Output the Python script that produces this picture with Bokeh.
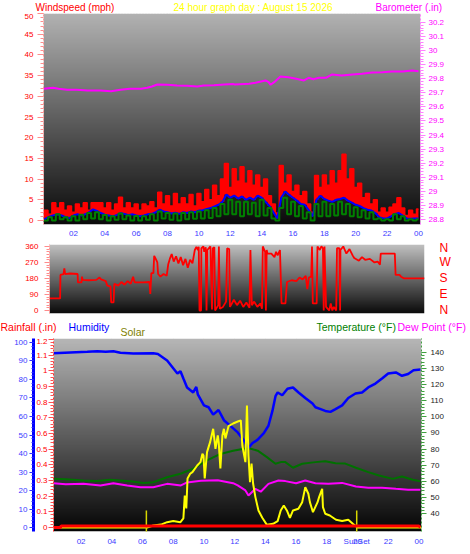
import json
import numpy as np
from bokeh.plotting import figure
from bokeh.layouts import column
from bokeh.models import Range1d, LinearAxis, FixedTicker, Label, CustomJSTickFormatter
from bokeh.embed import file_html
from bokeh.resources import INLINE

# ------------------------------------------------------------------ data
TITLE_DATE = "24 hour graph day : August 15 2026"

# wind, sampled every 15 minutes (hours since midnight)
wind_hours = [0, 0.25, 0.5, 0.75, 1, 1.25, 1.5, 1.75, 2, 2.25, 2.5, 2.75, 3, 3.25, 3.5, 3.75,
              4, 4.25, 4.5, 4.75, 5, 5.25, 5.5, 5.75, 6, 6.25, 6.5, 6.75, 7, 7.25, 7.5, 7.75,
              8, 8.25, 8.5, 8.75, 9, 9.25, 9.5, 9.75, 10, 10.25, 10.5, 10.75, 11, 11.25, 11.5, 11.75,
              12, 12.25, 12.5, 12.75, 13, 13.25, 13.5, 13.75, 14, 14.25, 14.5, 14.75, 15, 15.25, 15.5, 15.75,
              16, 16.25, 16.5, 16.75, 17, 17.25, 17.5, 17.75, 18, 18.25, 18.5, 18.75, 19, 19.25, 19.5, 19.75,
              20, 20.25, 20.5, 20.75, 21, 21.25, 21.5, 21.75, 22, 22.25, 22.5, 22.75, 23, 23.25, 23.5, 23.75, 24]
wind_gust = [0, 2.5, 1.5, 4.3, 3, 4.3, 2.5, 3.5, 2, 4, 3, 4.3, 2.5, 4.3, 4.3, 4.3,
             3, 4.3, 2.5, 4, 5.6, 3, 4.3, 3, 4, 2.5, 4, 3.5, 4.5, 3, 6.8, 4,
             6, 3.5, 6.5, 4, 5.5, 4, 6.3, 3.5, 6.5, 4.5, 7.5, 5, 8.5, 6, 10, 13.8,
             8, 12.5, 9.5, 13, 9, 12, 8.5, 11, 8, 10, 6, 4, 1.8, 13.3, 9, 11,
             7, 8.5, 6, 7, 4, 2, 10.9, 8, 11, 8.5, 12, 9, 12, 16, 10, 12.5,
             8, 9, 5.5, 6.5, 4, 5, 2, 3, 2, 3.2, 4, 5.5, 3, 1.2, 2.5, 1.5, 2.8]
wind_avg = [0, 0.5, 1, 1.3, 1.5, 1.2, 0.8, 0.6, 1.2, 1.5, 1.2, 1.5, 2, 2.7, 2.3, 1.8,
            1.4, 1.2, 1, 1.3, 1.8, 1.6, 1.3, 1.5, 1.2, 1, 1.2, 1.5, 1.6, 2, 2.6, 2.2,
            2, 1.7, 1.9, 1.6, 2, 1.8, 2.2, 2, 2.4, 2.5, 2.8, 3, 3.4, 3.8, 4.5, 6.3,
            5.5, 6, 5.3, 5.8, 5, 5.5, 5, 6, 5.5, 4.5, 3.5, 2, 0.5, 5.5, 7, 6.2,
            5.5, 4.8, 4, 3.8, 2.5, 1, 5, 6, 5.2, 4.8, 4.5, 5, 5.2, 5.5, 4.8, 4.3,
            3.8, 3.5, 3, 2.6, 2.4, 1.8, 0.8, 0.5, 0.5, 1, 1.6, 1.8, 1.2, 0.5, 0.4, 0.5, 0.5]
wind_speed = [0, 0, 0.8, 0, 1.5, 0.3, 0.8, 0, 1, 0, 1.4, 0.3, 1.8, 0.5, 2, 0.3,
              1.3, 0, 1, 0.2, 1.7, 0.3, 1.2, 0, 1.1, 0, 1, 0.2, 1.5, 0, 2.2, 0.5,
              1.8, 0.2, 1.7, 0, 1.8, 0.3, 2, 0.4, 2.2, 0.5, 2.5, 0.6, 3, 1, 4, 1.5,
              5, 1.5, 4.5, 1, 4.5, 1.5, 4.3, 1, 5, 1.2, 3, 0.5, 0, 3, 5.5, 1.5,
              4.5, 1, 3.5, 0.5, 2, 0, 4, 1, 4.5, 1, 4, 1.2, 4.5, 1.5, 4, 1,
              3.2, 0.8, 2.5, 0.5, 2, 0.3, 0.5, 0, 0.3, 0, 1.5, 0.3, 1, 0, 0.3, 0, 0.3]

baro_hours = [0.1, 0.7, 1.05, 1.6, 2.2, 2.9, 3.7, 4.4, 5.0, 5.6, 6.3, 6.7, 7.0, 7.35, 8.0, 8.6,
              9.25, 9.9, 10.3, 10.95, 11.6, 12.2, 12.3, 13.2, 13.6, 14.25, 14.45, 14.57, 14.8, 15.2,
              15.7, 16.2, 16.7, 17.0, 17.3, 17.65, 18.1, 18.5, 19.1, 19.8, 20.4, 21.05, 21.7, 22.3,
              23.0, 23.6, 24.0]
baro_inhg = [29.729, 29.736, 29.729, 29.722, 29.722, 29.717, 29.717, 29.712, 29.722, 29.729,
             29.729, 29.736, 29.745, 29.759, 29.757, 29.752, 29.750, 29.745, 29.752, 29.754,
             29.759, 29.762, 29.759, 29.764, 29.772, 29.788, 29.776, 29.757, 29.776, 29.816,
             29.811, 29.800, 29.788, 29.807, 29.797, 29.807, 29.807, 29.831, 29.823, 29.831,
             29.836, 29.845, 29.847, 29.852, 29.852, 29.859, 29.854]

dir_hours = [0, 0.68, 0.7, 0.9, 0.95, 1.0, 1.3, 1.8, 1.82, 2.05, 2.08, 2.12, 2.5, 3.0, 3.2, 3.3,
             3.6, 3.7, 3.9, 3.95, 4.1, 4.15, 4.4, 4.6, 4.8, 5.0, 5.2, 5.35, 5.45, 6.0, 6.4, 6.45,
             6.52, 6.65, 6.7, 6.8, 6.9, 6.95, 7.1, 7.3, 7.5, 7.6, 7.7, 7.82, 7.95, 8.1, 8.25, 8.4,
             8.55, 8.7, 8.85, 9.0, 9.15, 9.3, 9.4, 9.5, 9.55, 9.6, 9.7, 9.72, 9.85, 9.9, 10.0, 10.05,
             10.1, 10.3, 10.4, 10.45, 10.55, 10.6, 10.8, 10.84, 10.9, 11.1, 11.3, 11.37, 11.5, 11.55,
             11.8, 12.0, 12.2, 12.4, 12.6, 12.8, 12.86, 12.95, 13.1, 13.3, 13.5, 13.6, 13.65, 13.8,
             13.85, 13.9, 13.95, 14.2, 14.4, 14.5, 14.6, 14.75, 14.85, 15.1, 15.2, 15.5, 15.8, 16.0,
             16.2, 16.4, 16.5, 16.6, 16.75, 16.8, 16.85, 17.1, 17.15, 17.3, 17.4, 17.5, 17.55, 17.6,
             17.7, 17.9, 18.0, 18.1, 18.2, 18.35, 18.4, 18.55, 18.6, 18.62, 18.8, 19.0, 19.2, 19.4,
             19.5, 19.8, 20.0, 20.2, 20.5, 20.8, 21.0, 21.15, 21.2, 22.1, 22.15, 22.4, 22.5, 22.7, 24]
dir_deg = [68, 68, 200, 205, 237, 205, 208, 205, 158, 158, 190, 172, 170, 172, 185, 175,
           165, 140, 135, 45, 45, 150, 140, 160, 145, 165, 150, 190, 158, 158, 160, 93,
           210, 210, 307, 290, 270, 205, 190, 205, 195, 260, 290, 317, 275, 305, 265, 300,
           255, 290, 240, 285, 265, 340, 358, 340, 358, 0, 0, 350, 360, 330, 355, 0,
           340, 360, 5, 350, 355, 0, 30, 360, 10, 20, 50, 350, 345, 20,
           60, 30, 55, 20, 45, 15, 340, 30, 50, 20, 40, 10, 360, 330,
           0, 340, 320, 320, 300, 330, 310, 340, 40, 40, 160, 170, 165, 185,
           175, 195, 120, 185, 190, 360, 40, 40, 360, 340, 360, 350, 0, 360,
           20, 0, 40, 0, 20, 0, 350, 350, 0, 340, 360, 320, 345, 310,
           295, 280, 300, 285, 290, 270, 275, 258, 320, 320, 200, 200, 190, 180, 180]

hum_hours = [0.2, 2.4, 3.06, 3.6, 4.1, 4.56, 5.4, 6.7, 7.0, 7.6, 8.27, 8.47, 8.66, 8.9, 9.3, 9.5,
             9.6, 10.0, 10.3, 10.6, 10.95, 11.3, 11.85, 12.2, 12.6, 12.9, 13.15, 13.5, 13.9, 14.2,
             14.46, 14.66, 14.8, 15.1, 15.44, 15.8, 16.16, 16.6, 17.07, 17.26, 17.6, 17.9, 18.24,
             18.57, 19.0, 19.4, 19.87, 20.3, 20.7, 21.17, 21.6, 22.0, 22.5, 22.9, 23.3, 23.65, 24.1]
humidity = [94.2, 95, 95.3, 95, 95.3, 94.5, 94, 94.2, 93.8, 90.3, 83.2, 84.5, 80.5, 75.7, 73, 76,
            72, 66, 65, 61, 63.5, 58, 54, 51.4, 47, 43, 45.5, 47.5, 51, 55,
            63, 71, 73, 71.5, 75, 75.7, 73, 70, 67, 65, 64, 63, 62.5,
            64, 66, 70, 72.4, 73, 75.7, 77.8, 80.5, 83.2, 83.8, 82, 83, 85, 85.4]

temp_hours = [0.2, 1.0, 2.15, 3.0, 3.9, 5.2, 6.06, 6.7, 7.6, 8.47, 9.3, 10.2, 11.07, 11.9, 12.6,
              13.0, 13.5, 14.1, 14.66, 15.0, 15.3, 15.8, 16.4, 17.26, 17.9, 18.57, 19.2, 19.9,
              20.7, 21.4, 22.3, 22.9, 23.6, 24.1]
temperature = [61.6, 61.2, 60.5, 60.2, 61, 60, 59, 59.4, 62.5, 64.7, 67.8, 73, 77, 79, 80.2,
               80.4, 79, 75, 70.9, 71.9, 71.9, 68.4, 70.9, 71.9, 72.5, 71.2, 71, 68.4,
               65.7, 63.6, 61.5, 63, 61, 60]

dew_hours = [0.2, 1.0, 2.15, 3.26, 4.1, 5.0, 5.86, 6.7, 7.6, 8.5, 8.9, 9.8, 10.9, 11.9, 12.2,
             12.7, 12.9, 13.35, 13.7, 14.2, 14.85, 15.3, 16.0, 16.6, 17.26, 18.1, 19.0, 19.9,
             20.7, 21.6, 22.5, 23.3, 24.1]
dew_point = [58.8, 58.2, 58.4, 57.4, 58.8, 57.4, 56.3, 56.3, 58.4, 57.4, 59.3, 60.3, 60.7, 58.8,
             57.4, 54.3, 51.2, 55.3, 53.5, 58.4, 60.5, 60.1, 58.8, 60.5, 58.8, 58.4, 59, 56.8,
             56, 56, 55.3, 54.7, 54.7]

rain_hours = [0.2, 0.65, 0.7, 24.0, 24.1]
rain_in = [0, 0, 0.01, 0.01, 0]

solar_hours = [0.2, 6.3, 6.7, 7.2, 7.6, 8.0, 8.47, 8.66, 8.75, 8.85, 8.93, 9.1, 9.25, 9.56, 9.77,
               9.9, 9.97, 10.05, 10.2, 10.4, 10.5, 10.6, 10.75, 10.9, 10.96, 11.07, 11.2, 11.3,
               11.4, 11.6, 11.9, 12.2, 12.4, 12.5, 12.7, 12.8, 12.9, 13.0, 13.1, 13.2, 13.35,
               13.55, 13.8, 14.1, 14.5, 14.8, 15.0, 15.2, 15.4, 15.6, 15.8, 16.15, 16.4, 16.6,
               16.8, 16.9, 17.1, 17.4, 17.5, 17.7, 17.75, 17.9, 18.2, 18.6, 19.0, 19.4, 19.7,
               20.0, 24.17]
solar_wm2 = [0, 0, 15, 22, 40, 48, 40, 68, 240, 143, 368, 403, 415, 465, 490,
             553, 540, 368, 565, 640, 690, 740, 590, 690, 640, 443, 690, 740,
             668, 760, 780, 795, 803, 615, 490, 915, 540, 340, 480, 330, 228,
             128, 73, 20, 28, 48, 128, 165, 128, 73, 128, 140, 190, 303,
             253, 190, 115, 190, 228, 290, 153, 103, 90, 58, 48, 58, 28,
             0, 0]

sunrise_hour = 6.25
sunset_hour = 19.95

hour_ticks = [2, 4, 6, 8, 10, 12, 14, 16, 18, 20, 22, 24]
wind_ticks = [0, 5, 10, 15, 20, 25, 30, 35, 40, 45, 50]
baro_ticks = [28.8, 28.9, 29.0, 29.1, 29.2, 29.3, 29.4, 29.5, 29.6, 29.7, 29.8, 29.9, 30.0, 30.1, 30.2]
dir_ticks = [0, 90, 180, 270, 360]
compass = ["N", "E", "S", "W", "N"]
rain_ticks = [0, 0.1, 0.2, 0.3, 0.4, 0.5, 0.6, 0.7, 0.8, 0.9, 1.0, 1.1, 1.2]
hum_ticks = [0, 10, 20, 30, 40, 50, 60, 70, 80, 90, 100]
temp_ticks = [40, 50, 60, 70, 80, 90, 100, 110, 120, 130, 140]

# ------------------------------------------------------------------ style helpers
FONT = "Liberation Sans"
BLUE_TXT = "#3b3bff"
W = 470


def gradient(top, bottom, n=256):
    img = np.empty((n, 2), dtype=np.uint32)
    view = img.view(dtype=np.uint8).reshape((n, 2, 4))
    for i in range(n):
        v = int(round(bottom + (top - bottom) * i / (n - 1)))
        view[i, :, 0] = v
        view[i, :, 1] = v
        view[i, :, 2] = v
        view[i, :, 3] = 255
    return img


def add_bg(p, top, bottom):
    xr, yr = p.x_range, p.y_range
    p.image_rgba(image=[gradient(top, bottom)], x=xr.start, y=yr.start,
                 dw=xr.end - xr.start, dh=yr.end - yr.start)


def minor(ticks, n):
    out = []
    for a, b in zip(ticks[:-1], ticks[1:]):
        for k in range(n):
            out.append(a + (b - a) * k / n)
    out.append(ticks[-1])
    return out


dec_fmt = CustomJSTickFormatter(code="var s = tick.toFixed(1); return s.endsWith('.0') ? s.slice(0, -2) : s;")
hour_fmt = CustomJSTickFormatter(code="var h = Math.round(tick) % 24; return (h < 10 ? '0' : '') + h;")
hour_sun_fmt = CustomJSTickFormatter(code="if (Math.abs(tick - Math.round(tick)) > 1e-6) { return 'SunSet'; } var h = Math.round(tick) % 24; return (h < 10 ? '0' : '') + h;")
compass_map = {str(t): c for t, c in zip(dir_ticks, compass)}
compass_fmt = CustomJSTickFormatter(code="var m = " + json.dumps(compass_map) + "; var k = String(Math.round(tick)); return (k in m) ? m[k] : '';")


def style_axis(ax, label_color, tick_color, line_color, line_dash="2 2", line_width=1,
               major_out=5, minor_out=3, standoff=3, size="8px"):
    ax.major_label_text_color = label_color
    ax.major_label_text_font = FONT
    ax.major_label_text_font_size = size
    ax.major_tick_line_color = tick_color
    ax.minor_tick_line_color = tick_color
    ax.major_tick_out = major_out
    ax.major_tick_in = 0
    ax.minor_tick_out = minor_out
    ax.minor_tick_in = 0
    ax.axis_line_color = line_color
    ax.axis_line_dash = line_dash
    ax.axis_line_width = line_width
    ax.major_label_standoff = standoff


def style_grid(g):
    g.grid_line_color = "#d8d8d8"
    g.grid_line_alpha = 0.55
    g.grid_line_dash = "1 2"


def common(**kw):
    return dict(output_backend="svg", toolbar_location=None, background_fill_color="white",
                border_fill_color="white", outline_line_color=None, frame_align=False, **kw)


def strip(height, y_top):
    """Text band in page pixel coordinates (x to the right, y downward)."""
    s = figure(frame_width=W, frame_height=height, x_range=Range1d(0, W),
               y_range=Range1d(y_top + height, y_top), min_border=0,
               min_border_left=0, min_border_right=0, min_border_top=0, min_border_bottom=0,
               x_axis_location=None, y_axis_location=None, **common())
    s.grid.visible = False
    return s


def label(p, x, y, text, color, size="10px", align="left", baseline="middle"):
    p.add_layout(Label(x=x, y=y, text=text, text_color=color, text_font=FONT,
                       text_font_size=size, text_align=align, text_baseline=baseline))


# ------------------------------------------------------------------ top titles
s1 = strip(13, 0)
label(s1, 35, 6.5, "Windspeed (mph)", "#ff0000")
label(s1, 173, 6.5, TITLE_DATE, "#ffff00")
label(s1, 375, 6.5, "Barometer (.in)", "#ff00ff")

# ------------------------------------------------------------------ panel 1: wind + barometer
X1 = (0.09, 24.13)
Y1 = (-0.97, 50.03)
B1 = (28.764, 30.264)
p1 = figure(frame_width=377, frame_height=211, x_range=Range1d(*X1), y_range=Range1d(*Y1),
            min_border_left=43, min_border_right=50, min_border_top=0, min_border_bottom=16,
            **common())
p1.extra_y_ranges = {"baro": Range1d(*B1)}
add_bg(p1, 178, 10)

p1.xaxis.ticker = FixedTicker(ticks=hour_ticks)
p1.xaxis.formatter = hour_fmt
style_axis(p1.xaxis[0], BLUE_TXT, None, None, major_out=0, minor_out=0, standoff=6)

p1.yaxis.ticker = FixedTicker(ticks=wind_ticks, minor_ticks=minor(wind_ticks, 5))
style_axis(p1.yaxis[0], "#ff0000", "#ff8c8c", "#ff9a9a", major_out=6, minor_out=3, standoff=4)

baro_axis = LinearAxis(y_range_name="baro", ticker=FixedTicker(ticks=baro_ticks, minor_ticks=minor(baro_ticks, 5)),
                       formatter=dec_fmt)
style_axis(baro_axis, "#ff00ff", "#ff80ff", "#ff80ff", major_out=5, minor_out=3, standoff=3)
p1.add_layout(baro_axis, "right")

p1.xgrid.ticker = FixedTicker(ticks=hour_ticks)
p1.ygrid.ticker = FixedTicker(ticks=wind_ticks)
style_grid(p1.xgrid[0])
style_grid(p1.ygrid[0])

p1.varea_step(x=wind_hours, y1=wind_avg, y2=wind_gust, step_mode="center", fill_color="#ff0000")
p1.step(wind_hours, wind_gust, mode="center", line_color="#ff0000", line_width=1.5)
p1.line(wind_hours, wind_avg, line_color="#0000ff", line_width=2)
p1.step(wind_hours, wind_speed, mode="center", line_color="#008000", line_width=2)
p1.line(baro_hours, baro_inhg, y_range_name="baro", line_color="#ff00ff", line_width=2)

# ------------------------------------------------------------------ panel 2: wind direction
X2 = (0, 24)
Y2 = (-17, 371)
p2 = figure(frame_width=375, frame_height=69, x_range=Range1d(*X2), y_range=Range1d(*Y2),
            min_border_left=49, min_border_right=46, min_border_top=4, min_border_bottom=5,
            x_axis_location=None, **common())
add_bg(p2, 192, 10)
p2.yaxis.ticker = FixedTicker(ticks=dir_ticks, minor_ticks=minor(dir_ticks, 6))
style_axis(p2.yaxis[0], "#ff0000", "#ff8c8c", "#ff9a9a", major_out=5, minor_out=3, standoff=6)
compass_axis = LinearAxis(ticker=FixedTicker(ticks=dir_ticks, minor_ticks=[]), formatter=compass_fmt)
style_axis(compass_axis, "#ff0000", None, None, major_out=0, minor_out=0, standoff=15, size="12px")
p2.add_layout(compass_axis, "right")
p2.xgrid.visible = False
p2.ygrid.ticker = FixedTicker(ticks=dir_ticks)
style_grid(p2.ygrid[0])
p2.line(dir_hours, dir_deg, line_color="#ff0000", line_width=1.8)

# ------------------------------------------------------------------ panel 3 titles
s3 = strip(20, 318)
label(s3, 0, 326.5, "Rainfall (.in)", "#ff0000", size="10.5px")
label(s3, 68, 326.5, "Humidity", "#0000ff", size="10.5px")
label(s3, 120, 331.5, "Solar", "#808000", size="10.5px")
label(s3, 316, 326.5, "Temperature (°F)", "#008000", size="10.5px")
label(s3, 397, 326.5, "Dew Point (°F)", "#ff00ff", size="10.5px")

# ------------------------------------------------------------------ panel 3: rain/humidity/solar/temperature
X3 = (0.2, 24.17)
Y3 = (-0.0255, 1.2064)
H3 = (-2.16, 102.16)
T3 = (28.8, 148.7)
S3 = (-30, 1417.5)
p3 = figure(frame_width=368, frame_height=193, x_range=Range1d(*X3), y_range=Range1d(*Y3),
            min_border_left=53, min_border_right=49, min_border_top=0, min_border_bottom=23,
            **common())
p3.extra_y_ranges = {"hum": Range1d(*H3), "temp": Range1d(*T3), "solar": Range1d(*S3)}
add_bg(p3, 182, 5)

p3.xaxis.ticker = FixedTicker(ticks=hour_ticks + [sunset_hour])
p3.xaxis.formatter = hour_sun_fmt
style_axis(p3.xaxis[0], BLUE_TXT, None, None, major_out=0, minor_out=0, standoff=5)

p3.yaxis.ticker = FixedTicker(ticks=rain_ticks, minor_ticks=minor(rain_ticks, 5))
p3.yaxis.formatter = dec_fmt
style_axis(p3.yaxis[0], "#ff0000", "#ff5050", "#ff3030", major_out=5, minor_out=3, standoff=1)

hum_axis = LinearAxis(y_range_name="hum", ticker=FixedTicker(ticks=hum_ticks, minor_ticks=minor(hum_ticks, 5)),
                      formatter=dec_fmt)
style_axis(hum_axis, BLUE_TXT, "#3030ff", "#0000ff", line_dash="solid", line_width=3,
           major_out=4, minor_out=2, standoff=2)
p3.add_layout(hum_axis, "left")

temp_axis = LinearAxis(y_range_name="temp", ticker=FixedTicker(ticks=temp_ticks, minor_ticks=minor(temp_ticks, 5)),
                       formatter=dec_fmt)
style_axis(temp_axis, "#1b1b1b", "#40a040", "#40a040", major_out=5, minor_out=3, standoff=4)
p3.add_layout(temp_axis, "right")

p3.xgrid.ticker = FixedTicker(ticks=hour_ticks)
p3.ygrid.ticker = FixedTicker(ticks=[Y3[0] + k * (Y3[1] - Y3[0]) / 11 for k in range(1, 11)])
style_grid(p3.xgrid[0])
style_grid(p3.ygrid[0])

p3.line(temp_hours, temperature, y_range_name="temp", line_color="#007000", line_width=2)
p3.line(dew_hours, dew_point, y_range_name="temp", line_color="#ff00ff", line_width=2)
p3.line(hum_hours, humidity, y_range_name="hum", line_color="#0000ff", line_width=2.5)
p3.line(solar_hours, solar_wm2, y_range_name="solar", line_color="#ffff00", line_width=2)
p3.segment(x0=[sunrise_hour, sunset_hour], y0=[-0.03, -0.03], x1=[sunrise_hour, sunset_hour],
           y1=[0.108, 0.108], line_color="#d8d800", line_width=1.5)
p3.line(rain_hours, rain_in, line_color="#ff0000", line_width=3)

layout = column(s1, p1, p2, s3, p3, spacing=0)
open("out.html", "w").write(file_html(layout, INLINE))
